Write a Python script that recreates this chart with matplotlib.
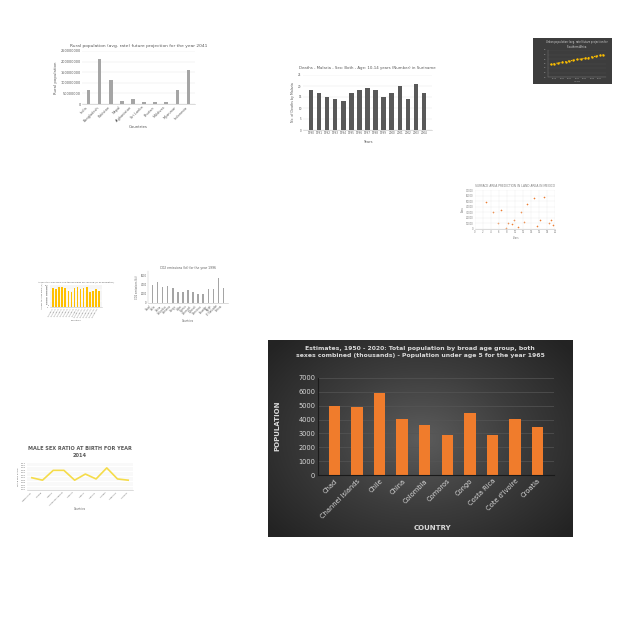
import numpy as np
import matplotlib
matplotlib.use("Agg")
import matplotlib.pyplot as plt
from matplotlib.colors import LinearSegmentedColormap

# Grafico principal: poblacion menor de 5 anos, 1965
paises = ["Chad", "Channel Islands", "Chile", "China", "Colombia", "Comoros",
          "Congo", "Costa Rica", "Cote d'Ivoire", "Croatia"]
poblacion = [5000, 4880, 5930, 4020, 3630, 2900, 4500, 2870, 4050, 3450]

# Poblacion rural (arriba izquierda)
paises_rural = ["India", "Bangladesh", "Pakistan", "Nepal", "Afghanistan",
                "Sri Lanka", "Bhutan", "Maldives", "Myanmar", "Indonesia"]
rural = [65e6, 210e6, 115e6, 14e6, 22e6, 9e6, 8e6, 8e6, 65e6, 160e6]

# Muertes por malaria en Surinam
anios_malaria = [str(a) for a in range(1990, 2005)]
muertes = [18, 17, 15, 14, 13, 17, 18, 19, 18, 15, 17, 20, 14, 21, 17]

# Poblacion urbana (arriba derecha, fondo oscuro)
anios_urbano = list(range(2027, 2042))
urbano = [58, 60, 61, 63, 64, 66, 67, 69, 70, 72, 73, 75, 76, 78, 80]

# Dispersion
disp_x = [2.75, 4.4, 6.5, 5.8, 7.75, 8.3, 9.25, 9.8, 10.8, 11.5, 12.3, 13.0,
          14.7, 15.5, 16.3, 17.2, 18.6, 19.0, 19.6]
disp_y = [47800, 31100, 34100, 11400, 1200, 10200, 8400, 16100, 4200, 31100,
          12000, 44800, 56200, 6000, 16100, 58000, 10200, 16000, 7200]

# Barras amarillas
amarillo = [85, 80, 90, 90, 85, 75, 70, 85, 90, 80, 85, 90, 70, 75, 80, 72]
cat_amarillo = ["Country %d" % (i + 1) for i in range(len(amarillo))]

# Barras grises (centro izquierda)
gris = [3900, 4500, 3460, 3760, 3300, 2430, 2430, 2800, 2430, 1900, 2060,
        3170, 3170, 5500, 3300]
cat_gris = ["Chad", "Chile", "China", "Colombia", "Comoros", "Congo", "Cuba",
            "Cyprus", "Denmark", "Djibouti", "Dominica", "Ecuador", "Egypt",
            "El Salvador", "Eritrea"]

# Razon de sexos al nacer 2014
paises_ratio = ["Afghanistan", "Albania", "Algeria", "American Samoa",
                "Andorra", "Angola", "Anguilla", "Antigua", "Argentina",
                "Armenia"]
ratio = [1.05, 1.04, 1.08, 1.08, 1.04, 1.065, 1.045, 1.09, 1.045, 1.04]


def caja(fig, x0, y0, x1, y1):
    # convierte pixeles (origen arriba izquierda) en coordenadas de figura
    return fig.add_axes([x0 / 640, 1 - y1 / 640, (x1 - x0) / 640, (y1 - y0) / 640])


def estilo_claro(ax, fs=2.5):
    for s in ["top", "right", "left"]:
        ax.spines[s].set_visible(False)
    ax.spines["bottom"].set_color("#bfbfbf")
    ax.spines["bottom"].set_linewidth(0.4)
    ax.tick_params(labelsize=fs, length=0, colors="#595959", pad=1)
    ax.yaxis.grid(True, color="#e6e6e6", linewidth=0.3)
    ax.set_axisbelow(True)


fig = plt.figure(figsize=(6.4, 6.4), dpi=100)
fig.patch.set_facecolor("white")

# ---- Poblacion rural ----
ax = caja(fig, 82, 51, 195, 104)
ax.bar(paises_rural, rural, color="#a5a5a5", width=0.3)
estilo_claro(ax)
ax.set_ylim(0, 250e6)
ax.set_yticks([0, 50e6, 100e6, 150e6, 200e6, 250e6])
ax.set_yticklabels(["0", "50000000", "100000000", "150000000", "200000000", "250000000"])
plt.setp(ax.get_xticklabels(), rotation=45, ha="right")
ax.set_title("Rural population (avg. rate) future projection for the year 2041",
             fontsize=3.2, color="#595959", pad=3)
ax.set_ylabel("Rural population", fontsize=2.8, color="#595959", labelpad=2)
ax.set_xlabel("Countries", fontsize=2.8, color="#595959", labelpad=1)

# ---- Malaria ----
ax = caja(fig, 303, 75, 432, 130)
ax.bar(anios_malaria, muertes, color="#595959", width=0.55)
estilo_claro(ax, fs=2.0)
ax.set_ylim(0, 25)
ax.set_yticks([0, 5, 10, 15, 20, 25])
ax.set_title("Deaths - Malaria - Sex: Both - Age: 10-14 years (Number) in Suriname",
             fontsize=2.8, color="#595959", pad=4)
ax.set_ylabel("No. of Deaths by Malaria", fontsize=2.3, color="#595959", labelpad=2)
ax.set_xlabel("Years", fontsize=2.6, color="#595959", labelpad=3)

# ---- Poblacion urbana (oscuro) ----
fondo = caja(fig, 533, 38, 612, 84)
fondo.set_facecolor("#3d3d3d")
fondo.set_xticks([])
fondo.set_yticks([])
for s in fondo.spines.values():
    s.set_visible(False)
ax = caja(fig, 548, 50, 606, 77)
ax.set_facecolor("none")
ax.plot(anios_urbano, urbano, color="#ffc000", linestyle=":", linewidth=0.8,
        marker="o", markersize=0.7)
for s in ["top", "right"]:
    ax.spines[s].set_visible(False)
for s in ["left", "bottom"]:
    ax.spines[s].set_color("#7f7f7f")
    ax.spines[s].set_linewidth(0.3)
ax.set_ylim(30, 90)
ax.tick_params(labelsize=1.4, length=0, colors="#a6a6a6", pad=1)
ax.yaxis.grid(True, color="#4f4f4f", linewidth=0.3)
ax.set_title("Urban population (avg. rate) future projection for\nSouthern Africa",
             fontsize=1.8, color="#d9d9d9", pad=1.5)
ax.set_xlabel("Years", fontsize=1.6, color="#a6a6a6", labelpad=1)

# ---- Dispersion ----
ax = caja(fig, 475, 190, 555, 229)
ax.scatter(disp_x, disp_y, s=1.2, color="#ed7d31", marker="+", linewidths=0.4)
for s in ["top", "right", "left"]:
    ax.spines[s].set_visible(False)
ax.spines["bottom"].set_color("#bfbfbf")
ax.spines["bottom"].set_linewidth(0.4)
ax.set_xlim(0, 20)
ax.set_ylim(0, 70000)
ax.set_xticks(range(0, 21, 2))
ax.set_yticks(range(0, 70001, 10000))
ax.grid(True, color="#ececec", linewidth=0.3)
ax.tick_params(labelsize=1.8, length=0, colors="#7f7f7f", pad=1)
ax.set_title("SURFACE AREA PREDICTION IN LAND AREA IN MEXICO", fontsize=2.2,
             color="#7f7f7f", pad=2)
ax.set_xlabel("Years", fontsize=1.8, color="#7f7f7f", labelpad=1)
ax.set_ylabel("Area", fontsize=1.8, color="#7f7f7f", labelpad=1)

# ---- Barras amarillas ----
ax = caja(fig, 50, 285, 102, 307)
ax.bar(cat_amarillo, amarillo, color="#ffc000", width=0.6)
estilo_claro(ax, fs=1.4)
ax.set_ylim(0, 100)
ax.set_yticks(range(0, 101, 5))
plt.setp(ax.get_xticklabels(), rotation=60, ha="right")
ax.set_title("Access to clean fuels and technologies for cooking (% of population)",
             fontsize=1.6, color="#595959", pad=1.5)
ax.set_ylabel("Access to clean fuels (%)", fontsize=1.5, color="#595959", labelpad=1)
ax.set_xlabel("Countries", fontsize=1.6, color="#595959", labelpad=1)

# ---- Barras grises ----
ax = caja(fig, 148, 271, 228, 303)
ax.bar(cat_gris, gris, color="#a5a5a5", width=0.3)
estilo_claro(ax, fs=1.8)
ax.spines["left"].set_visible(True)
ax.spines["left"].set_color("#bfbfbf")
ax.spines["left"].set_linewidth(0.3)
ax.set_ylim(0, 7000)
ax.yaxis.grid(False)
plt.setp(ax.get_xticklabels(), rotation=45, ha="right")
ax.set_title("CO2 emissions (kt) for the year 1996", fontsize=2.2, color="#595959", pad=1.5)
ax.set_ylabel("CO2 emissions (kt)", fontsize=1.8, color="#595959", labelpad=1)
ax.set_xlabel("Countries", fontsize=1.8, color="#595959", labelpad=1)

# ---- Razon de sexos ----
ax = caja(fig, 27, 463, 133, 490)
ax.plot(paises_ratio, ratio, color="#f5dc4a", linewidth=1.2)
estilo_claro(ax, fs=1.6)
ax.set_ylim(1.0, 1.11)
ax.set_yticks(np.arange(1.0, 1.111, 0.01))
ax.set_yticklabels(["%.2f" % v for v in np.arange(1.0, 1.111, 0.01)])
plt.setp(ax.get_xticklabels(), rotation=45, ha="right")
ax.set_title("MALE SEX RATIO AT BIRTH FOR YEAR\n2014", fontsize=3.6, color="#595959",
             fontweight="bold", pad=4, linespacing=1.5)
ax.set_ylabel("MALE SEX RATIO", fontsize=1.6, color="#595959", labelpad=1)
ax.set_xlabel("Countries", fontsize=1.8, color="#595959", labelpad=1)

# ---- Grafico principal con fondo degradado ----
fondo = caja(fig, 268, 340, 573, 537)
yy, xx = np.mgrid[-1:1:200j, -1:1:300j]
radio = np.sqrt(xx ** 2 + (yy * 0.9) ** 2)
cmap_fondo = LinearSegmentedColormap.from_list("fondo", ["#5c5c5c", "#3c3c3c", "#232323"])
fondo.imshow(radio, cmap=cmap_fondo, aspect="auto", extent=[0, 1, 0, 1],
             vmin=0, vmax=1.3)
fondo.set_xticks([])
fondo.set_yticks([])
for s in fondo.spines.values():
    s.set_visible(False)

ax = caja(fig, 318, 378, 554, 475)
ax.set_facecolor("none")
ax.bar(paises, poblacion, color="#f07c2c", width=0.5)
ax.set_ylim(0, 7000)
ax.set_yticks(range(0, 7001, 1000))
ax.yaxis.grid(True, color="#555555", linewidth=0.5)
ax.set_axisbelow(True)
for s in ["top", "right"]:
    ax.spines[s].set_visible(False)
ax.spines["left"].set_color("#1a1a1a")
ax.spines["bottom"].set_color("#1a1a1a")
ax.spines["left"].set_linewidth(0.8)
ax.spines["bottom"].set_linewidth(0.8)
ax.tick_params(labelsize=4.8, length=0, colors="#d9d9d9", pad=2)
plt.setp(ax.get_xticklabels(), rotation=45, ha="right", rotation_mode="anchor")
fig.text(277 / 640, 1 - 426 / 640, "POPULATION", rotation=90, ha="center", va="center",
         fontsize=5, fontweight="bold", color="#d9d9d9")
fig.text(432 / 640, 1 - 528 / 640, "COUNTRY", ha="center", va="center",
         fontsize=5, fontweight="bold", color="#d9d9d9")
fig.text(420 / 640, 1 - 352 / 640,
         "Estimates, 1950 - 2020: Total population by broad age group, both\n"
         "sexes combined (thousands) - Population under age 5 for the year 1965",
         ha="center", va="center", fontsize=4.4, fontweight="bold", color="#d9d9d9",
         linespacing=1.6)

fig.savefig("out.png", dpi=100)
